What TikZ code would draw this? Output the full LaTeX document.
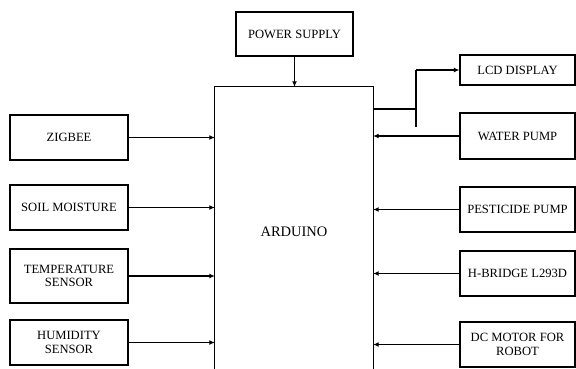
\documentclass[tikz,border=0pt]{standalone}
\usepackage{fontspec}
\setmainfont{Liberation Serif}
\usetikzlibrary{arrows.meta}
\begin{document}
\begin{tikzpicture}[x=1pt,y=-1pt,
  blk/.style={draw, line width=1.3pt, align=center, inner sep=0pt,
    font=\fontsize{12.6}{13.6}\selectfont, text depth=0pt},
  lbox/.style={blk, minimum width=118pt, minimum height=45pt},
  rbox/.style={blk, minimum width=115pt, minimum height=45pt},
  arr/.style={-{Latex[length=5.5pt,width=5pt]}, line width=1.3pt},
  wire/.style={line width=1.3pt}]
\useasboundingbox (0,0) rectangle (576,368);
% central block
\node[inner sep=0, minimum width=158pt, minimum height=290pt,
  font=\fontsize{14.5}{16}\selectfont] (ard) at (294,232) {ARDUINO};
\draw[line width=1.3pt] (ard.south west) -- (ard.north west) -- (ard.north east) -- (ard.south east);
% power
\node[blk, minimum width=117pt, minimum height=44pt] (pow) at (294.5,34) {POWER SUPPLY};
\draw[arr] (pow.south) -- (pow.south |- ard.north);
% left blocks
\node[lbox] (zig) at (69,137.5) {ZIGBEE};
\node[lbox] (soil) at (69,207.5) {SOIL MOISTURE};
\node[lbox, minimum height=54pt] (temp) at (69,276) {TEMPERATURE\\SENSOR};
\node[lbox] (hum) at (69,342.5) {HUMIDITY\\SENSOR};
\foreach \n in {zig,soil,temp,hum}
  \draw[arr] (\n.east) -- (\n.east -| ard.west);
% right blocks
\node[rbox, minimum height=30pt] (lcd) at (517.5,70) {LCD DISPLAY};
\node[rbox, minimum height=46pt] (water) at (517.5,136) {WATER PUMP};
\node[rbox] (pest) at (517.5,209.5) {PESTICIDE PUMP};
\node[rbox] (hb) at (517.5,273.5) {H-BRIDGE L293D};
\node[rbox] (dc) at (517.5,344.5) {DC MOTOR FOR\\ROBOT};
\foreach \n in {water,pest,hb,dc}
  \draw[arr] (\n.west) -- (\n.west -| ard.east);
% LCD connection
\coordinate (ja) at (ard.east |- 0,109);
\coordinate (jm) at (416,109);
\coordinate (jt) at (jm |- lcd.west);
\coordinate (jb) at (416,127);
\draw[wire] (ja) -- (jm);
\draw[wire] (jt) -- (jb);
\draw[arr] (jt) -- (lcd.west);
\end{tikzpicture}
\end{document}
